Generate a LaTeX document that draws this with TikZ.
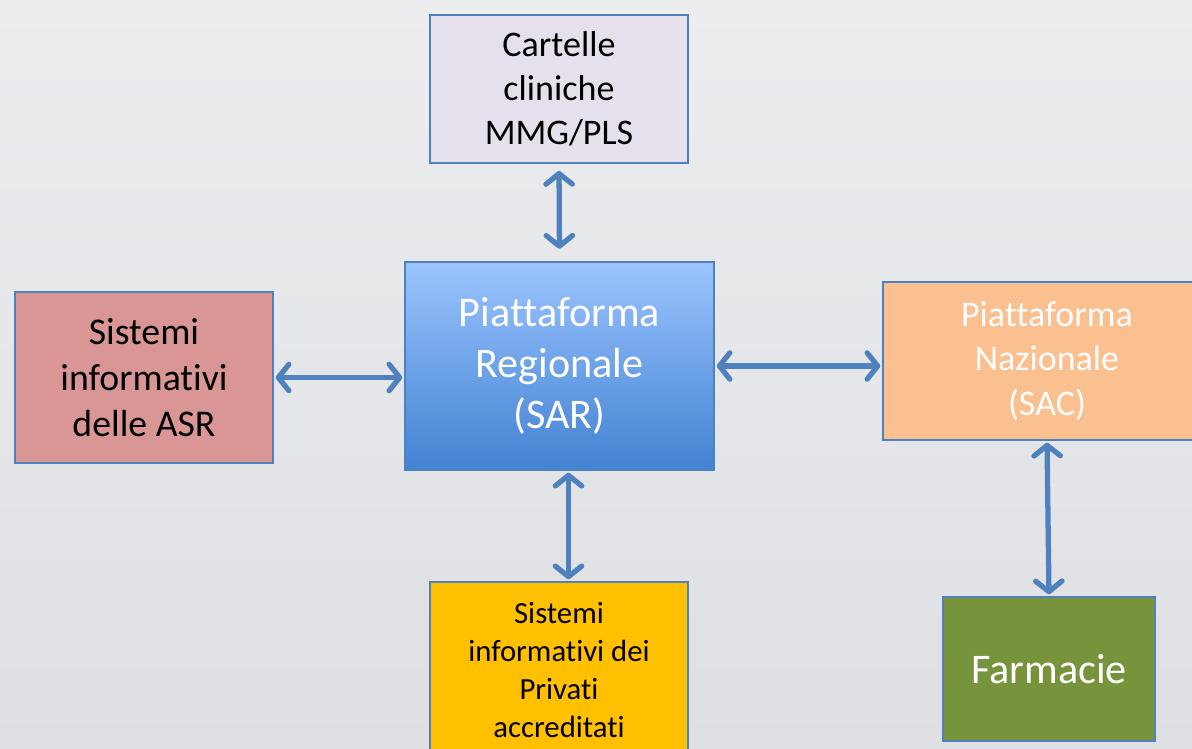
\documentclass[tikz,border=0pt]{standalone}
\usepackage{fontspec}
\setmainfont[Ligatures=NoCommon]{Carlito}
\usetikzlibrary{arrows.meta}

\definecolor{frame}{RGB}{79,129,189}
\definecolor{lilla}{RGB}{230,224,236}
\definecolor{rosa}{RGB}{217,150,148}
\definecolor{pesca}{RGB}{250,192,144}
\definecolor{giallo}{RGB}{255,192,0}
\definecolor{verde}{RGB}{119,147,60}
\definecolor{azzurro}{RGB}{155,196,255}
\definecolor{blu}{RGB}{66,130,210}

\tikzset{
	box/.style={draw=frame, line width=1.1pt, align=center, inner sep=0pt},
	link/.style={frame, line width=3pt, {Straight Barb[length=6pt,width=15pt,round]}-{Straight Barb[length=6pt,width=15pt,round]}}
}

\begin{document}
\begin{tikzpicture}[x=0.02cm, y=-0.02cm]
	\clip (0,0) rectangle (1192,749);
	\shade[top color={rgb,255:red,236;green,237;blue,239}, bottom color={rgb,255:red,222;green,223;blue,227}] (0,0) rectangle (1192,749);

	\node[box, fill=lilla, minimum width=5.16cm, minimum height=2.96cm, font=\fontsize{20.5}{25}\selectfont] (cart) at (559,89)
		{Cartelle\\cliniche\\MMG/PLS};
	\node[box, top color=azzurro, bottom color=blu, text=white, minimum width=6.18cm, minimum height=4.16cm, font=\fontsize{24}{29}\selectfont] (sar) at (559.5,366)
		{Piattaforma\\Regionale\\(SAR)};
	\node[box, fill=rosa, minimum width=5.16cm, minimum height=3.42cm, font=\fontsize{21.5}{26}\selectfont] (asr) at (144,377.5)
		{Sistemi\\informativi\\delle ASR};
	\node[box, fill=pesca, text=white, minimum width=6.56cm, minimum height=3.16cm, font=\fontsize{20.5}{25.5}\selectfont] (sac) at (1047,361)
		{Piattaforma\\Nazionale\\(SAC)};
	\node[box, fill=giallo, minimum width=5.16cm, minimum height=3.52cm, font=\fontsize{17.5}{21.5}\selectfont] (priv) at (559,670)
		{Sistemi\\informativi dei\\Privati\\accreditati};
	\node[box, fill=verde, text=white, minimum width=4.24cm, minimum height=2.88cm, font=\fontsize{24}{29}\selectfont] (farm) at (1049,669)
		{Farmacie};

	\draw[link, shorten <=4pt, shorten >=7pt] (cart.south) -- (sar.north);
	\draw[link, shorten <=1pt, shorten >=1pt] (asr.east) -- (asr.east -| sar.west);
	\draw[link, shorten <=1pt, shorten >=1pt] (sar.east) -- (sar.east -| sac.west);
	\draw[link, shorten <=1pt, shorten >=1pt] ([xshift=0.18cm]sar.south) -- ([xshift=0.18cm]sar.south |- priv.north);
	\draw[link, shorten <=1pt, shorten >=1pt] (sac.south) -- (farm.north);
\end{tikzpicture}
\end{document}
